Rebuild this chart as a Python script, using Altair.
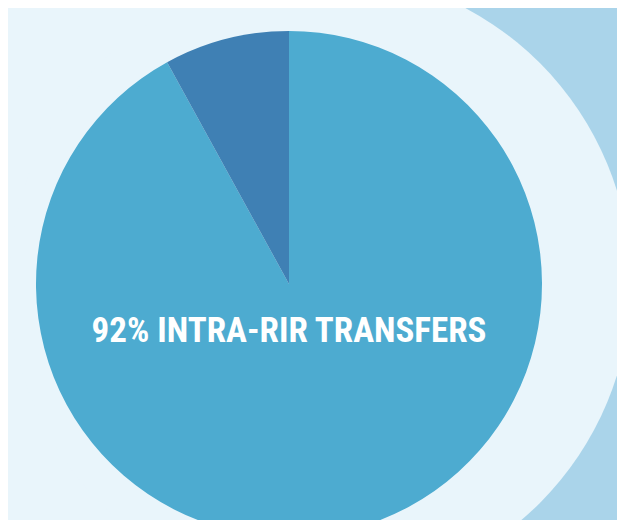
import altair as alt
import pandas as pd

categories = ["Intra-RIR transfers", "Inter-RIR transfers"]
shares = [92, 8]
colors = ["#4dabd0", "#3f80b4"]
label_text = ["92% INTRA-RIR TRANSFERS"]

df = pd.DataFrame({"category": categories, "share": shares, "rank": [0, 1]})
ring_df = pd.DataFrame({"share": [100]})
text_df = pd.DataFrame({"label": label_text})

W, H = 609, 512
cx, cy = 281, 276

texture = alt.Chart(ring_df).mark_rect(color="#aad4ea").encode(
    x=alt.value(430), x2=alt.value(W), y=alt.value(0), y2=alt.value(H)
)

ring = alt.Chart(ring_df).mark_arc(outerRadius=311, color="#e9f5fb").encode(
    theta=alt.Theta("share:Q"),
    x=alt.value(312),
    y=alt.value(275),
)

pie = alt.Chart(df).mark_arc(outerRadius=253).encode(
    theta=alt.Theta("share:Q", stack=True),
    order=alt.Order("rank:Q"),
    color=alt.Color("category:N", scale=alt.Scale(domain=categories, range=colors), legend=None),
    x=alt.value(cx),
    y=alt.value(cy),
)

text = alt.Chart(text_df).mark_text(
    font="Roboto Condensed",
    fontWeight="bold",
    fontSize=35,
    color="white",
    align="center",
    baseline="middle",
).encode(
    text="label:N",
    x=alt.value(cx),
    y=alt.value(323),
)

chart = alt.layer(texture, ring, pie, text).properties(
    width=W,
    height=H,
    autosize=alt.AutoSizeParams(type="none"),
    padding=0,
    background="#e9f5fb",
).configure_view(stroke=None, fill="#e9f5fb")

chart.save("out.html", embed_options={"renderer": "svg", "actions": False})
